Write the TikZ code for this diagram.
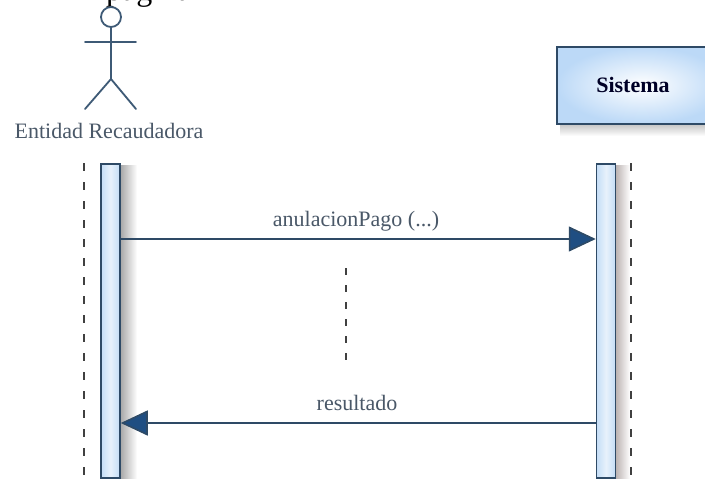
\documentclass[tikz,border=0pt]{standalone}
\usepackage{fontspec}
\setmainfont{Liberation Serif}
\usetikzlibrary{arrows.meta}
\definecolor{lineC}{HTML}{2E4A66}
\definecolor{stickC}{HTML}{3E5A76}
\definecolor{arrC}{HTML}{1F4E82}
\definecolor{txtC}{HTML}{4A5868}
\definecolor{barC}{HTML}{C4DDF6}
\definecolor{boxC}{HTML}{BCD9F7}
\definecolor{shR}{HTML}{B8AFAE}
\tikzset{
  stick/.style={draw=stickC, line width=1.8pt, line cap=round},
  bartype/.style={draw=lineC, line width=1.5pt, minimum width=19pt, minimum height=314pt, inner sep=0pt, anchor=north, left color=barC, right color=barC, middle color=barC!40},
  lifeline/.style={draw=black!75, line width=2pt, dash pattern=on 8pt off 11pt},
  msg/.style={draw=lineC, line width=1.6pt, -{Triangle[length=27pt,width=25pt,fill=arrC]}},
  lbl/.style={text=txtC, font=\fontsize{22}{26}\selectfont},
}
\begin{document}
\begin{tikzpicture}[x=1pt,y=-1pt]
\useasboundingbox (0,0) rectangle (705,479);
\fill[white] (0,0) rectangle (705,479);
% fragment of page text at top (cut off in the reference)
\node[anchor=base west, inner sep=0pt, font=\fontsize{32}{34}\selectfont] (frag) at (106,0.5) {página};
% actor
\draw[stick] (111,17) circle (10);
\draw[stick] (111,27) -- (111,79);
\draw[stick] (85,42) -- (136,42);
\draw[stick] (85,109) -- (111,79) -- (136,109);
\node[lbl] (ent) at (109,131) {Entidad Recaudadora};
% Sistema box with shadow
\shade[top color=black!25, bottom color=white] (560,123) rectangle (705,136);
\node[draw=lineC, line width=1.5pt, minimum width=170pt, minimum height=77pt, anchor=north west, inner color=white, outer color=boxC, inner sep=0pt] (sisbox) at (556,46) {};
\node[text=black!75!blue!60!black, font=\fontsize{22}{26}\selectfont\bfseries] (sis) at (633,85) {Sistema};
% shadows of activation bars
\shade[left color=black!35, right color=white] (120,165) rectangle (137,479);
\shade[left color=shR, right color=white] (615,165) rectangle (630,479);
% lifelines
\coordinate (llA) at (84,163);
\coordinate (llAe) at (84,479);
\coordinate (llB) at (631,163);
\coordinate (llBe) at (631,479);
\draw[lifeline] (llA) -- (llAe);
\draw[lifeline] (llB) -- (llBe);
% activation bars
\node[bartype] (barL) at (110.5,163) {};
\node[bartype] (barR) at (606,163) {};
% messages
\coordinate (m1) at (0,239);
\coordinate (m2) at (0,423);
\draw[msg] (barL.east |- m1) -- (barR.west |- m1);
\draw[msg] (barR.west |- m2) -- (barL.east |- m2);
\node[lbl] (l1) at (356,221) {anulacionPago (...)};
\node[lbl] (l2) at (357,403) {resultado};
% continuation dashes
\coordinate (dA) at (346,268);
\coordinate (dB) at (346,370);
\draw[draw=black!75, line width=2.2pt, dash pattern=on 7pt off 10pt] (dA) -- (dB);
\end{tikzpicture}
\end{document}
